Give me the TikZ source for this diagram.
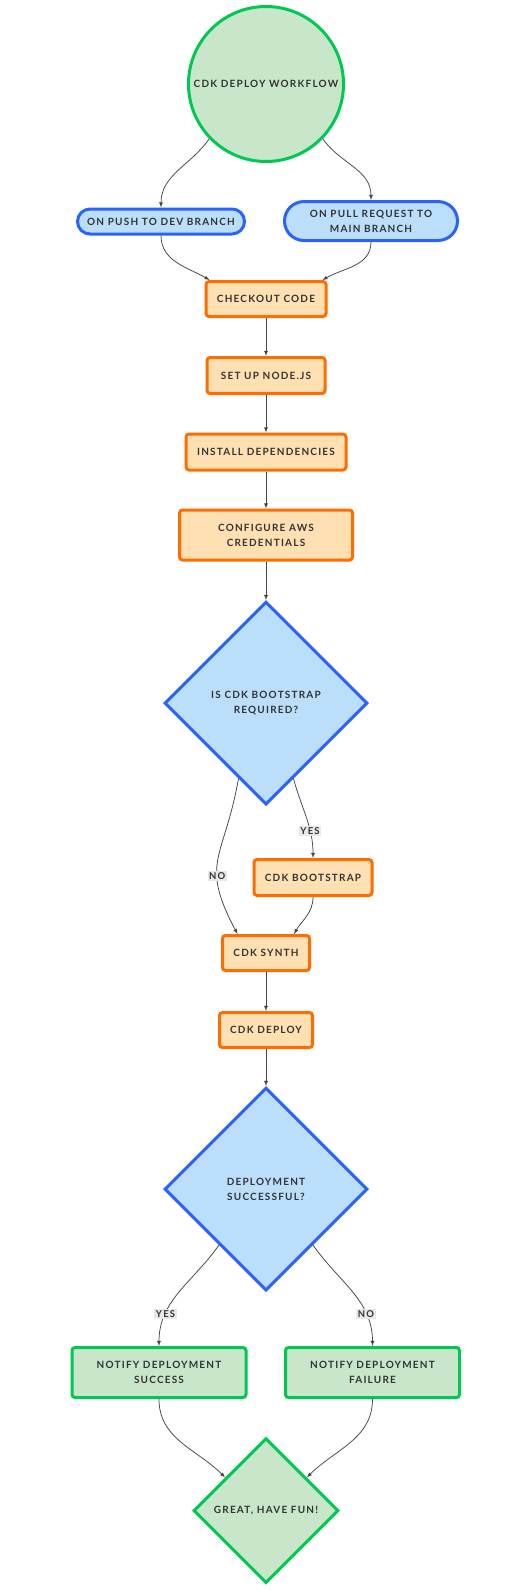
\documentclass[tikz,border=0pt]{standalone}
\usepackage{fontspec}
\setmainfont{Lato}[LetterSpace=12]
\usetikzlibrary{shapes.geometric,shapes.misc}
\definecolor{grnfill}{HTML}{C8E6C9}
\definecolor{grnline}{HTML}{00C853}
\definecolor{bluefill}{HTML}{BBDEFB}
\definecolor{blueline}{HTML}{2962FF}
\definecolor{orgfill}{HTML}{FFE0B2}
\definecolor{orgline}{HTML}{FF6D00}
\definecolor{txt}{HTML}{333333}
\definecolor{lnk}{HTML}{444444}
\definecolor{lblfill}{HTML}{E8E8E8}
\begin{document}
\begin{tikzpicture}[x=1pt,y=1pt,>=latex,
  every node/.style={font=\bfseries\fontsize{10}{15}\selectfont,text=txt,align=center,inner sep=0pt},
  startnode/.style={circle,draw=grnline,fill=grnfill,line width=3pt,minimum size=155pt},
  trigger/.style={rounded rectangle,draw=blueline,fill=bluefill,line width=3pt},
  stepbox/.style={rectangle,rounded corners=3pt,draw=orgline,fill=orgfill,line width=3pt,minimum height=35pt},
  notebox/.style={rectangle,rounded corners=3pt,draw=grnline,fill=grnfill,line width=3pt,minimum width=174pt,minimum height=50pt},
  decision/.style={diamond,aspect=1,draw=blueline,fill=bluefill,line width=3pt,minimum size=203pt},
  conn/.style={->,draw=lnk,line width=0.75pt},
  lbl/.style={fill=lblfill,inner sep=1.5pt,font=\bfseries\fontsize{9.5}{10}\selectfont}]
 \xdef\cx{266}
 \fill[white] (0,0) rectangle (520,-1591);
 \useasboundingbox (0,0) rectangle (520,-1591);
 % nodes
 \node[startnode] (wf) at (\cx,-84) {CDK DEPLOY WORKFLOW};
 \node[trigger,minimum width=167pt,minimum height=25pt] (push) at (161,-221.5) {ON PUSH TO DEV BRANCH};
 \node[trigger,minimum width=173pt,minimum height=39pt] (pull) at (371,-221) {ON PULL REQUEST TO\\MAIN BRANCH};
 \node[stepbox,minimum width=120pt] (checkout) at (\cx,-299) {CHECKOUT CODE};
 \node[stepbox,minimum width=118pt,minimum height=36pt] (setup) at (\cx,-375.5) {SET UP NODE.JS};
 \node[stepbox,minimum width=160pt,minimum height=36pt] (install) at (\cx,-452) {INSTALL DEPENDENCIES};
 \node[stepbox,minimum width=173pt,minimum height=50pt] (creds) at (\cx,-535) {CONFIGURE AWS\\CREDENTIALS};
 \node[decision] (needboot) at (\cx,-703) {IS CDK BOOTSTRAP\\REQUIRED?};
 \node[stepbox,minimum width=118pt,minimum height=36pt] (boot) at (313,-877.5) {CDK BOOTSTRAP};
 \node[stepbox,minimum width=87pt] (synth) at (\cx,-953) {CDK SYNTH};
 \node[stepbox,minimum width=93pt] (deploy) at (\cx,-1030) {CDK DEPLOY};
 \node[decision] (deployok) at (\cx,-1189) {DEPLOYMENT\\SUCCESSFUL?};
 \node[notebox] (notifyok) at (159,-1372.5) {NOTIFY DEPLOYMENT\\SUCCESS};
 \node[notebox] (notifyfail) at (372.5,-1372.5) {NOTIFY DEPLOYMENT\\FAILURE};
 \node[diamond,aspect=1,draw=grnline,fill=grnfill,line width=3pt,minimum size=145pt] (fun) at (\cx,-1510.5) {GREAT, HAVE FUN!};
 % connectors
 \draw[conn] (wf.-136) to[out=-125,in=90] (push.north);
 \draw[conn] (wf.-44) to[out=-55,in=90] (pull.north);
 \draw[conn] (push.south) to[out=-90,in=150] ([xshift=5pt]checkout.north west);
 \draw[conn] (pull.south) to[out=-90,in=30] ([xshift=-5pt]checkout.north east);
 \draw[conn] (checkout) -- (setup);
 \draw[conn] (setup) -- (install);
 \draw[conn] (install) -- (creds);
 \draw[conn] (creds) -- (needboot);
 \draw[conn] (needboot.-70) to[out=-75,in=90] node[lbl,pos=0.68] {YES} (boot.north);
 \draw[conn] (needboot.-110) to[out=-100,in=118,looseness=1.35] node[lbl,pos=0.64] {NO} ([xshift=16.5pt]synth.north west);
 \draw[conn] (boot.south) to[out=-90,in=60] ([xshift=-17pt]synth.north east);
 \draw[conn] (synth) -- (deploy);
 \draw[conn] (deploy) -- (deployok);
 \draw[conn] (deployok.-130) to[out=-125,in=90] node[lbl,pos=0.73] {YES} (notifyok.north);
 \draw[conn] (deployok.-50) to[out=-55,in=90] node[lbl,pos=0.73] {NO} (notifyfail.north);
 \draw[conn] (notifyok.south) to[out=-90,in=135] (fun.141);
 \draw[conn] (notifyfail.south) to[out=-90,in=45] (fun.39);
\end{tikzpicture}
\end{document}
